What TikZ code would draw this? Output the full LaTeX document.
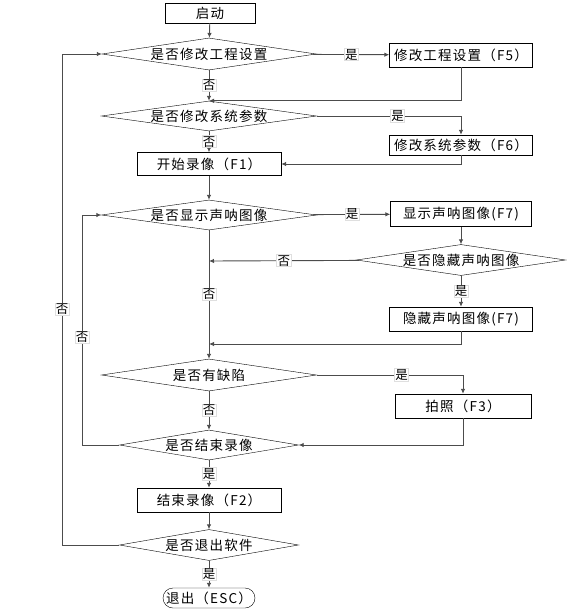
\documentclass[tikz,border=0pt]{standalone}
\usepackage{fontspec}
\setmainfont[LetterSpace=9]{Noto Sans CJK SC}
\usetikzlibrary{positioning,arrows.meta,shapes.geometric}

\begin{document}
\begin{tikzpicture}[x=1pt,y=-1pt,
  every node/.style={font=\fontsize{13.5}{15}\selectfont},
  box/.style={draw,thin,minimum width=#1,inner sep=0pt},
  box/.default=143,
  dec/.style={draw,thin,diamond,inner sep=0pt},
  lab/.style={fill=white,draw=gray!25,inner sep=0.8pt,font=\fontsize{12.5}{14}\selectfont},
  line/.style={draw=black!70,line width=0.9pt,-{Latex[length=5pt,width=4.5pt]}}]
\useasboundingbox (0,0) rectangle (588,611);
% boxes
\node[box=90,minimum height=20] (start) at (210,13) {启动};
\node[box,minimum height=24] (b5) at (461,55) {修改工程设置（F5）};
\node[box,minimum height=20] (b6) at (461,145) {修改系统参数（F6）};
\node[box=144,minimum height=23] (b1) at (209,164) {开始录像（F1）};
\node[box=141,minimum height=25] (b7) at (461,214) {显示声呐图像(F7)};
\node[box,minimum height=24] (b7h) at (461,319) {隐藏声呐图像(F7)};
\node[box=136,minimum height=24] (b3) at (463,406) {拍照（F3）};
\node[box=144,minimum height=24] (b2) at (209,500) {结束录像（F2）};
\node[draw,thin,rounded corners=10pt,minimum width=92,minimum height=20,inner sep=0pt] (stop) at (209,598) {退出（ESC）};
% decisions
\node[dec,minimum width=214,minimum height=32,aspect=6.7] (d1) at (209,54) {是否修改工程设置};
\node[dec,minimum width=215,minimum height=30,aspect=7.2] (d2) at (209,116) {是否修改系统参数};
\node[dec,minimum width=215,minimum height=30,aspect=7.2] (d3) at (209,215) {是否显示声呐图像};
\node[dec,minimum width=209,minimum height=31,aspect=6.7] (d4) at (461,260) {是否隐藏声呐图像};
\node[dec,minimum width=215,minimum height=32,aspect=6.7] (d5) at (209,375) {是否有缺陷};
\node[dec,minimum width=179,minimum height=30,aspect=6] (d6) at (209,445) {是否结束录像};
\node[dec,minimum width=179,minimum height=31,aspect=5.8] (d7) at (209,545) {是否退出软件};
% joints
\coordinate (m2) at (209,261);
\coordinate (m3) at (209,344);
\coordinate (c6) at (82,445);
\coordinate (c7) at (62,545);
% connectors
\draw[line] (start) -- (d1);
\draw[line] (d1) -- node[lab] {是} (b5);
\draw[line] (d1) -- node[lab] {否} (d2);
\draw[line] (b5) |- (d2.north);
\draw[line] (d2.east) -| node[lab,pos=.28] {是} (b6.north);
\draw[line] (d2) -- node[lab] {否} (b1);
\draw[line] (b6) |- (b1);
\draw[line] (b1) -- (d3);
\draw[line] (d3) -- node[lab] {是} (b7);
\draw[line] (b7) -- (d4);
\draw[line] (d4) -- node[lab] {否} (m2);
\draw[line] (d4) -- node[lab] {是} (b7h);
\draw[line] (b7h) |- (m3);
\draw[line] (d3) -- node[lab] {否} (d5);
\draw[line] (d5.east) -| node[lab,pos=.29] {是} (b3.north);
\draw[line] (d5) -- node[lab] {否} (d6);
\draw[line] (b3) |- (d6.east);
\draw[line] (d6.west) -- (c6) |- node[lab,pos=.234] {否} (d3.west);
\draw[line] (d6) -- node[lab] {是} (b2);
\draw[line] (b2) -- (d7);
\draw[line] (d7.west) -- (c7) |- node[lab,pos=.24] {否} (d1.west);
\draw[line] (d7) -- node[lab] {是} (stop);
\end{tikzpicture}
\end{document}
